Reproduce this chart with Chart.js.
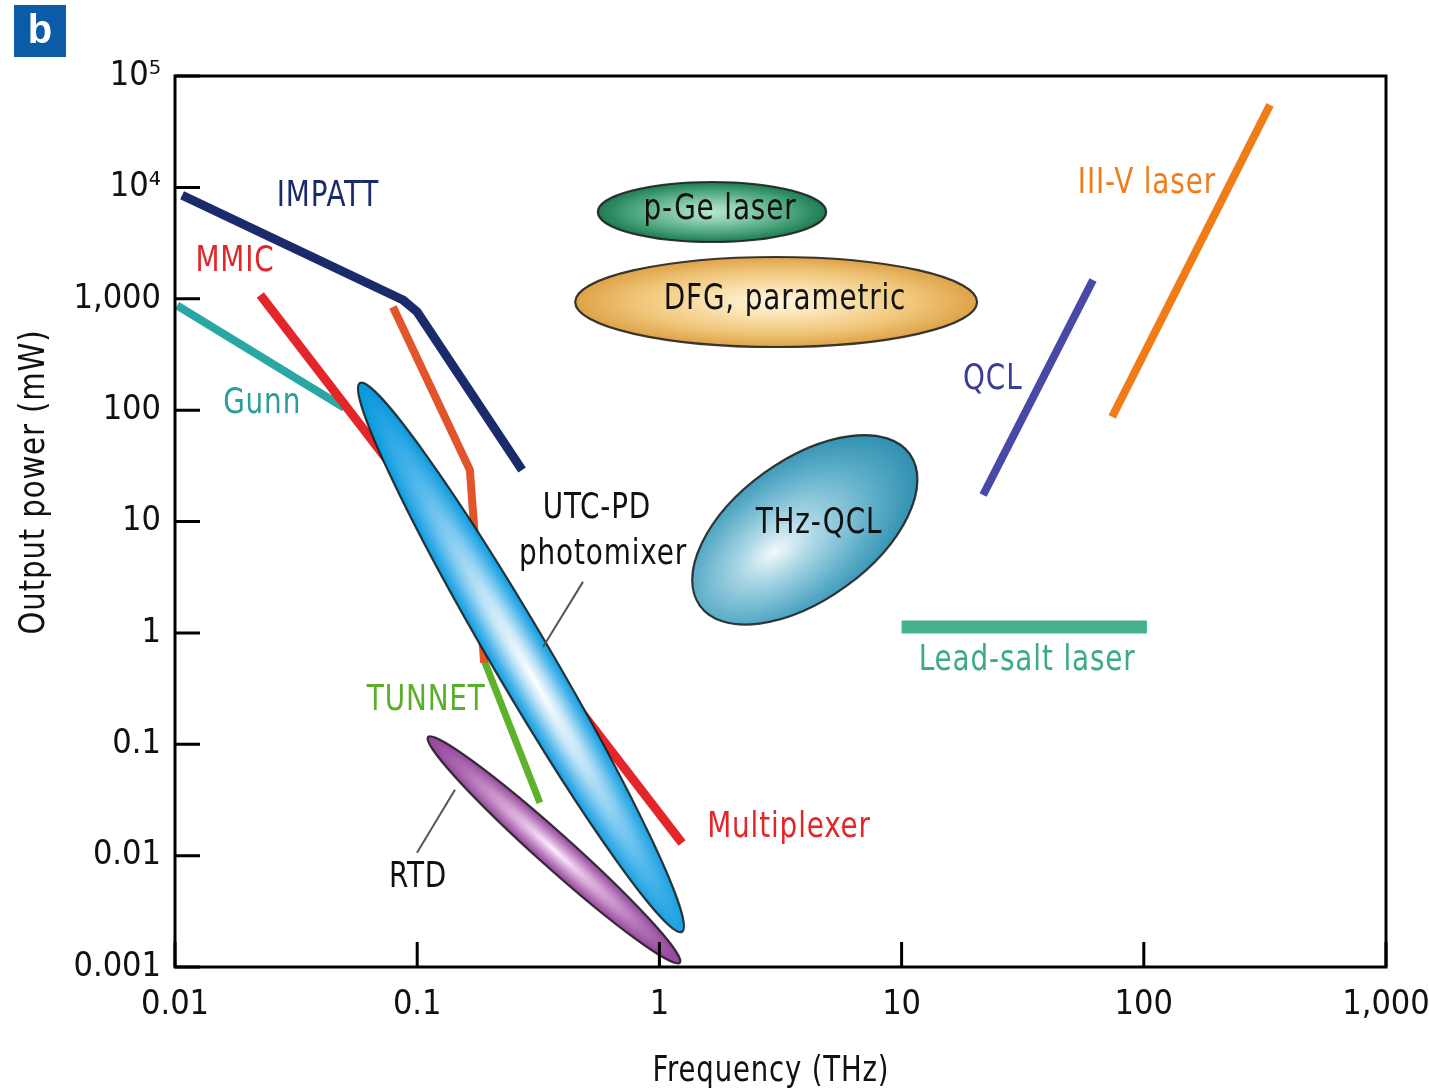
<!DOCTYPE html>
<html>
<head>
<meta charset="utf-8">
<script src="https://cdn.jsdelivr.net/npm/chart.js@4.4.0/dist/chart.umd.min.js"></script>
<style>
  html, body { margin: 0; background: #fff; }
  #wrap { width: 1429px; height: 1090px; position: relative; }
</style>
</head>
<body>
<div id="wrap"><canvas id="thzChart"></canvas></div>
<script>
// axis ticks
const freqTicks = [0.01, 0.1, 1, 10, 100, 1000];
const freqTickLabels = ["0.01", "0.1", "1", "10", "100", "1,000"];
const powerTicks = [0.001, 0.01, 0.1, 1, 10, 100, 1000, 1e4, 1e5];
const powerTickLabels = ["0.001", "0.01", "0.1", "1", "10", "100", "1,000", "10\u2074", "10\u2075"];

// line sources (frequency in THz, power in mW)
const impattFreq = [0.0107, 0.0874, 0.1, 0.271];
const impattPower = [8500, 975, 762, 29];
const mmicFreq = [0.0225, 1.24];
const mmicPower = [1080, 0.013];
const gunnFreq = [0.0102, 0.05];
const gunnPower = [870, 105];
const orangeLineFreq = [0.0794, 0.165, 0.189];
const orangeLinePower = [844, 29, 0.54];
const tunnetFreq = [0.19, 0.321];
const tunnetPower = [0.55, 0.0298];
const qclFreq = [21.7, 61.7];
const qclPower = [17.3, 1475];
const iiivFreq = [74, 332];
const iiivPower = [87, 55000];
const leadSaltFreq = [10, 103];
const leadSaltPower = [1.13, 1.13];

// regions drawn as ellipses: ends of the long axis + width ratio
const ellipseNames = ["UTC-PD", "RTD", "p-Ge laser", "DFG", "THz-QCL"];
const ellipseFreqStart = [0.058, 0.1108, 0.557, 0.449, 1.47];
const ellipsePowerStart = [175, 0.1164, 6010, 935, 1.75];
const ellipseFreqEnd = [1.24, 1.216, 4.88, 20.5, 10.8];
const ellipsePowerEnd = [0.00207, 0.00109, 6010, 935, 40.5];
const ellipseWidthRatio = [0.091, 0.10, 0.263, 0.224, 0.54];

// text labels
const labelTexts = ["IMPATT", "MMIC", "Gunn", "UTC-PD", "photomixer", "THz-QCL", "p-Ge laser",
  "DFG, parametric", "QCL", "III-V laser", "Lead-salt laser", "TUNNET", "RTD", "Multiplexer"];
const labelFreq = [0.0428, 0.0177, 0.0229, 0.552, 0.585, 4.56, 1.78, 3.30, 23.8, 103, 33, 0.109, 0.1008, 3.43];
const labelPower = [8200, 2140, 114, 13, 5.0, 9.5, 6270, 975, 187, 10900, 0.56, 0.245, 0.0063, 0.0178];

// leader lines (from label to region)
const leaderFreqStart = [0.4835, 0.1432];
const leaderPowerStart = [2.87, 0.039];
const leaderFreqEnd = [0.3307, 0.0998];
const leaderPowerEnd = [0.748, 0.0106];

const FONT = "'Liberation Sans Narrow', 'DejaVu Sans Condensed', 'Liberation Sans', Arial, sans-serif";

const labelColors = ["#1b2a6b", "#e4262b", "#2a9d9d", "#111", "#111", "#111", "#111",
  "#111", "#3b3c98", "#ee7d1c", "#3aab84", "#5aae2a", "#111", "#e4262b"];

const ellipseStyles = [
  { hl: 0.1, stops: ["#ffffff", "#bfe3f6", "#48b4ea", "#0597dc"] },
  { hl: 0.0, stops: ["#fcf0fc", "#dcb0dd", "#b070b4", "#93449a"] },
  { hl: 0.0, stops: ["#b8e6cf", "#8fcfb0", "#4aa47c", "#1f7a52"] },
  { hl: 0.0, stops: ["#fff6e2", "#fbe4b4", "#efc577", "#dea248"] },
  { hl: -0.3, stops: ["#f2f9fb", "#a9d6e5", "#5cadc8", "#2f8fb0"] }
];

function pts(xs, ys) {
  return xs.map((x, i) => ({ x: x, y: ys[i] }));
}

function lineSet(label, xs, ys, color, width) {
  return {
    label: label,
    data: pts(xs, ys),
    borderColor: color,
    backgroundColor: color,
    borderWidth: width,
    pointRadius: 0,
    fill: false,
    tension: 0,
    borderJoinStyle: "round",
  };
}

// condensed text, like the narrow face of the original figure
function narrowText(ctx, text, x, y, squeeze) {
  ctx.save();
  ctx.translate(x, y);
  ctx.scale(squeeze, 1);
  ctx.fillText(text, 0, 0);
  ctx.restore();
}

const overlayPlugin = {
  id: "overlay",
  afterDatasetsDraw(chart) {
    const ctx = chart.ctx;
    const xs = chart.scales.x;
    const ys = chart.scales.y;

    // ellipses
    ellipseNames.forEach((name, i) => {
      const x1 = xs.getPixelForValue(ellipseFreqStart[i]);
      const y1 = ys.getPixelForValue(ellipsePowerStart[i]);
      const x2 = xs.getPixelForValue(ellipseFreqEnd[i]);
      const y2 = ys.getPixelForValue(ellipsePowerEnd[i]);
      const cx = (x1 + x2) / 2, cy = (y1 + y2) / 2;
      const a = Math.hypot(x2 - x1, y2 - y1) / 2;
      const b = a * ellipseWidthRatio[i];
      const ang = Math.atan2(y2 - y1, x2 - x1);
      const st = ellipseStyles[i];

      ctx.save();
      ctx.translate(cx, cy);
      ctx.rotate(ang);
      ctx.scale(1, b / a);
      const g = ctx.createRadialGradient(st.hl * a, 0, 0, st.hl * a * 0.5, 0, a * (1 + Math.abs(st.hl) * 0.5));
      g.addColorStop(0, st.stops[0]);
      g.addColorStop(0.3, st.stops[1]);
      g.addColorStop(0.7, st.stops[2]);
      g.addColorStop(1, st.stops[3]);
      ctx.beginPath();
      ctx.arc(0, 0, a, 0, Math.PI * 2);
      ctx.fillStyle = g;
      ctx.fill();
      ctx.restore();

      ctx.save();
      ctx.beginPath();
      ctx.ellipse(cx, cy, a, b, ang, 0, Math.PI * 2);
      ctx.lineWidth = 2.2;
      ctx.strokeStyle = "rgba(25,25,25,0.85)";
      ctx.stroke();
      ctx.restore();
    });

    // leader lines
    ctx.save();
    ctx.strokeStyle = "#555";
    ctx.lineWidth = 2;
    leaderFreqStart.forEach((f, i) => {
      ctx.beginPath();
      ctx.moveTo(xs.getPixelForValue(f), ys.getPixelForValue(leaderPowerStart[i]));
      ctx.lineTo(xs.getPixelForValue(leaderFreqEnd[i]), ys.getPixelForValue(leaderPowerEnd[i]));
      ctx.stroke();
    });
    ctx.restore();

    // labels
    ctx.save();
    ctx.font = "36px " + FONT;
    ctx.textAlign = "center";
    ctx.textBaseline = "middle";
    if ("letterSpacing" in ctx) ctx.letterSpacing = "1px";
    labelTexts.forEach((t, i) => {
      ctx.fillStyle = labelColors[i];
      narrowText(ctx, t, xs.getPixelForValue(labelFreq[i]), ys.getPixelForValue(labelPower[i]), 0.86);
    });
    ctx.restore();
  },
  afterDraw(chart) {
    const ctx = chart.ctx;
    const area = chart.chartArea;
    const xs = chart.scales.x;
    const ys = chart.scales.y;

    ctx.save();
    // frame
    ctx.strokeStyle = "#000";
    ctx.lineWidth = 3;
    ctx.strokeRect(area.left, area.top, area.right - area.left, area.bottom - area.top);

    // inward ticks
    ctx.beginPath();
    powerTicks.forEach((v) => {
      const y = ys.getPixelForValue(v);
      ctx.moveTo(area.left, y);
      ctx.lineTo(area.left + 25, y);
    });
    freqTicks.forEach((v) => {
      const x = xs.getPixelForValue(v);
      ctx.moveTo(x, area.bottom);
      ctx.lineTo(x, area.bottom - 25);
    });
    ctx.stroke();

    // axis titles
    ctx.fillStyle = "#111";
    ctx.font = "36px " + FONT;
    ctx.textAlign = "center";
    ctx.textBaseline = "middle";
    if ("letterSpacing" in ctx) ctx.letterSpacing = "1px";
    narrowText(ctx, "Frequency (THz)", 771, 1072, 0.85);
    ctx.translate(35, 482);
    ctx.rotate(-Math.PI / 2);
    narrowText(ctx, "Output power (mW)", 0, 0, 0.9);
    ctx.restore();

    // panel letter
    ctx.save();
    ctx.fillStyle = "#0b5ca8";
    ctx.fillRect(14, 5, 52, 52);
    ctx.fillStyle = "#fff";
    ctx.font = "bold 40px 'Liberation Sans', Arial, sans-serif";
    ctx.textAlign = "center";
    ctx.textBaseline = "middle";
    ctx.fillText("b", 40, 32);
    ctx.restore();
  }
};

document.addEventListener("DOMContentLoaded", () => {
  const ctx = document.getElementById("thzChart").getContext("2d");

  const data = {
    datasets: [
      lineSet("IMPATT", impattFreq, impattPower, "#1b2a6b", 9),
      lineSet("MMIC / Multiplexer", mmicFreq, mmicPower, "#e4262b", 9),
      lineSet("Gunn", gunnFreq, gunnPower, "#2aa7a5", 8),
      lineSet("orange", orangeLineFreq, orangeLinePower, "#e2552a", 8),
      lineSet("TUNNET", tunnetFreq, tunnetPower, "#5db22c", 7),
      lineSet("QCL", qclFreq, qclPower, "#4848a6", 8),
      lineSet("III-V laser", iiivFreq, iiivPower, "#f07c18", 8),
      lineSet("Lead-salt laser", leadSaltFreq, leadSaltPower, "#44b38d", 13),
    ],
  };

  const tickFont = { family: FONT, size: 34 };

  const config = {
    type: "line",
    data: data,
    plugins: [overlayPlugin],
    options: {
      responsive: true,
      maintainAspectRatio: false,
      animation: false,
      layout: { padding: { top: 76, right: 43, left: 0, bottom: 0 } },
      scales: {
        x: {
          type: "logarithmic",
          position: "bottom",
          min: 0.01,
          max: 1000,
          grid: { display: false },
          border: { display: false },
          afterBuildTicks: (scale) => {
            scale.ticks = freqTicks.map((v) => ({ value: v }));
          },
          afterFit: (scale) => {
            scale.height = 123;
            scale.paddingLeft = 0;
            scale.paddingRight = 0;
          },
          ticks: {
            autoSkip: false,
            maxRotation: 0,
            padding: 10,
            color: "#111",
            font: tickFont,
            callback: function (value, index) {
              return freqTickLabels[index];
            },
          },
        },
        y: {
          type: "logarithmic",
          position: "left",
          min: 0.001,
          max: 1e5,
          grid: { display: false },
          border: { display: false },
          afterBuildTicks: (scale) => {
            scale.ticks = powerTicks.map((v) => ({ value: v }));
          },
          afterFit: (scale) => {
            scale.width = 175;
            scale.paddingTop = 0;
            scale.paddingBottom = 0;
          },
          ticks: {
            autoSkip: false,
            padding: 6,
            color: "#111",
            font: tickFont,
            callback: function (value, index) {
              return powerTickLabels[index];
            },
          },
        },
      },
      plugins: {
        legend: { display: false },
        tooltip: { enabled: false },
      },
    },
  };

  new Chart(ctx, config);
});
</script>
</body>
</html>
